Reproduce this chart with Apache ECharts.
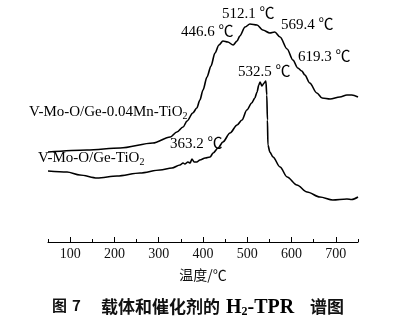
<!DOCTYPE html>
<html>
<head>
<meta charset="utf-8">
<script src="https://cdn.jsdelivr.net/npm/echarts@6/dist/echarts.min.js"></script>
<style>
html,body{margin:0;padding:0;background:#fff;}
#c{width:407px;height:322px;}
</style>
</head>
<body>
<div id="c"></div>
<script>
// Temperature (°C) and intensity (a.u.)
var mnTemp = [50,138,213,287,326,341,355,364,377,386,393,400,409,418,427,436,445,456,468,477,483,495,506,522,535,551,562,574,590,603,614,623,630,641,657,669,687,709,725,736,750];
var mnSignal = [90,92,94,99,105,110,115,121,129,134,142,152,165,176,189,197,201,200,197,201,206,215,218,217,212,209,210,205,193,182,174,171,167,159,149,144,143,145,147,147,145];
var geTemp = [50,93,122,161,206,258,303,330,348,355,359,366,371,375,380,386,393,405,416,423,434,445,461,477,488,499,510,517,522,526,529,533,538,542,544,545.5,546.6,551,558,574,590,612,635,664,693,725,736,750];
var geSignal = [71,70,67,64,66,69,72,74,77,79,78,80,79,83,80,80,82,84,85,89,94,100,109,117,122,132,139,144,150,157,160,156,159,161,147,122,97,90,85,75,65,57,50,45,42,43,42.5,45];
var majorTicks = [100,200,300,400,500,600,700];
var minorTicks = [50,150,250,350,450,550,650,750];
var seriesNames = ['V-Mo-O/Ge-0.04Mn-TiO2','V-Mo-O/Ge-TiO2'];

function zip(a,b){var r=[];for(var i=0;i<a.length;i++){r.push([a[i],b[i]]);}return r;}

var serif = '"Liberation Serif","Times New Roman",serif';
var cjk = '"Noto Sans CJK SC",sans-serif';
var chart = echarts.init(document.getElementById('c'));
var lineStyle = {color:'#000', width:1.6};
var richSub = {
  a:{fontFamily:serif,fontSize:15,color:'#111',lineHeight:18},
  d:{fontFamily:cjk,fontSize:15,color:'#111',lineHeight:18,padding:[0,0,4,0]},
  s:{fontFamily:serif,fontSize:10,color:'#111',verticalAlign:'bottom'}
};
function txt(x,yc,text){
  return {type:'text',left:x,top:yc-9,style:{text:text,rich:richSub}};
}
function bold(x,yc,text,size,fam){
  return {type:'text',left:x,top:yc-10,style:{text:text,font:'bold '+size+'px '+fam,fill:'#111'}};
}
chart.setOption({
  animation:false,
  backgroundColor:'#fff',
  grid:[
    {left:48,right:49,top:2,bottom:80},
    {left:48,right:49,top:2,bottom:80}
  ],
  xAxis:[
    {type:'value',gridIndex:0,min:50,max:750,
     name:'温度/℃',nameLocation:'middle',nameGap:26,
     nameTextStyle:{fontFamily:cjk,fontSize:14,color:'#111'},
     axisLine:{show:true,lineStyle:{color:'#000',width:1}},
     axisTick:{show:true,inside:true,length:5,customValues:majorTicks,lineStyle:{color:'#000',width:1}},
     axisLabel:{show:true,customValues:majorTicks,margin:5,fontFamily:serif,fontSize:14,color:'#111'},
     splitLine:{show:false}},
    {type:'value',gridIndex:1,min:50,max:750,position:'bottom',
     axisLine:{show:false},
     axisTick:{show:true,inside:true,length:3,customValues:minorTicks,lineStyle:{color:'#000',width:1}},
     axisLabel:{show:false},
     splitLine:{show:false}}
  ],
  yAxis:[
    {type:'value',gridIndex:0,min:0,max:240,show:false},
    {type:'value',gridIndex:1,min:0,max:240,show:false}
  ],
  series:[
    {name:seriesNames[0],type:'line',xAxisIndex:0,yAxisIndex:0,data:zip(mnTemp,mnSignal),showSymbol:false,smooth:0.3,smoothMonotone:'x',lineStyle:lineStyle},
    {name:seriesNames[1],type:'line',xAxisIndex:0,yAxisIndex:0,data:zip(geTemp,geSignal),showSymbol:false,smooth:0.3,smoothMonotone:'x',lineStyle:lineStyle}
  ],
  graphic:[
    txt(181,32,'{a|446.6 }{d|℃}'),
    txt(222,14,'{a|512.1 }{d|℃}'),
    txt(281,25,'{a|569.4 }{d|℃}'),
    txt(298,57,'{a|619.3 }{d|℃}'),
    txt(238,72,'{a|532.5 }{d|℃}'),
    txt(29,114,'{a|V-Mo-O/Ge-0.04Mn-TiO}{s|2}'),
    txt(170,144,'{a|363.2 }{d|℃}'),
    txt(38,160,'{a|V-Mo-O/Ge-TiO}{s|2}'),
    bold(52,308,'图',15,cjk),
    bold(72,308,'7',15,cjk),
    bold(101,308,'载体和催化剂的',17,cjk),
    {type:'text',left:226,top:298,style:{
      text:'{h|H}{hs|2}{h|-TPR}',
      rich:{
        h:{fontFamily:serif,fontWeight:'bold',fontSize:20,color:'#111',lineHeight:20},
        hs:{fontFamily:serif,fontWeight:'bold',fontSize:12,color:'#111',verticalAlign:'bottom'}
      }}},
    bold(310,308,'谱图',17,cjk)
  ]
});
</script>
</body>
</html>
